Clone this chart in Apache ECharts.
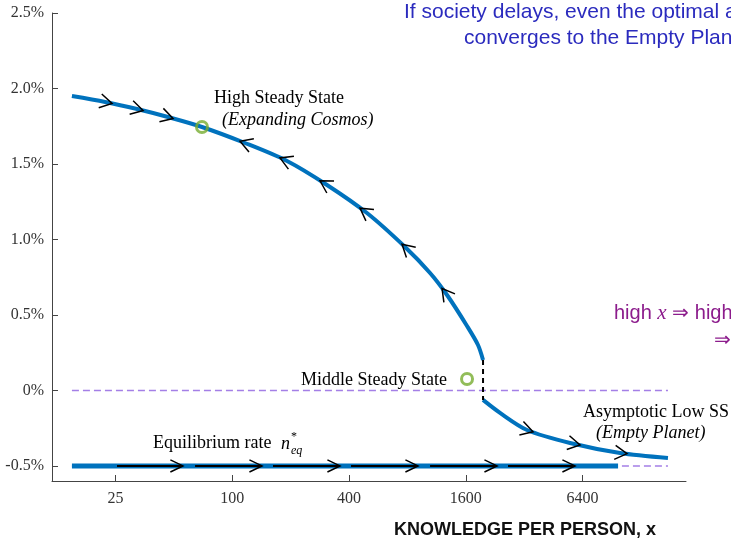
<!DOCTYPE html>
<html><head><meta charset="utf-8">
<script src="https://cdn.jsdelivr.net/npm/echarts@6/dist/echarts.min.js"></script>
<style>html,body{margin:0;padding:0;background:#fff}#c{width:731px;height:539px}</style>
</head><body><div id="c"></div>
<script>
// ---- data (knowledge per person K, growth rate n in %) ----
const xTicks = [25, 100, 400, 1600, 6400];
const yTicks = [-0.5, 0, 0.5, 1.0, 1.5, 2.0, 2.5];
const yTickLabels = ['-0.5%', '0%', '0.5%', '1.0%', '1.5%', '2.0%', '2.5%'];
const xRangeK = [11.76, 21865];
const yRange = [-0.6, 2.5];
const upperK = [14.9, 22.1, 32.3, 46.6, 69.8, 116.3, 191.6, 308, 495, 778, 1047, 1281, 1624, 1850, 1964];
const upperN = [1.950, 1.911, 1.864, 1.811, 1.745, 1.639, 1.520, 1.361, 1.175, 0.950, 0.778, 0.632, 0.427, 0.301, 0.202];
const lowerK = [1964, 2403, 3311, 5517, 9990, 17650];
const lowerN = [-0.063, -0.149, -0.262, -0.348, -0.414, -0.447];
const eqK = [14.9, 9760];
const eqN = -0.5;
const refLineK = [14.9, 17650];
const steadyK = [69.8, 1624];
const steadyN = [1.745, 0.076];
const jumpK = 1964;
const jumpN = [0.202, -0.063];
const upperArrowK = [24.0, 34.7, 49.5, 109.7, 176.3, 283.5, 455.8, 750.6, 1207];
const upperArrowDir = [1, 1, 1, -1, -1, -1, -1, -1, -1];
const lowerArrowK = [3555, 6212, 10850];
const lowerArrowDir = [1, 1, 1];
const eqArrowStartK = [25.45, 64.3, 162.2, 409.6, 1047, 2642];
const eqArrowEndK = [55.7, 142.4, 359.5, 907.7, 2320, 5855];

// ---- helpers ----
const L = k => Math.log(k / 25) / Math.log(4);
const BLUE = '#0072BD', GREEN = '#77AC30', PURPLE = '#A47FE6';
const SERIF = '"Liberation Serif","Times New Roman",serif';
const SANS = '"Liberation Sans",Arial,Helvetica,sans-serif';
const branches = [[upperK, upperN], [lowerK, lowerN]];

function chevron(tip, d, len, ang) {
  const bx = -d[0], by = -d[1];
  const c = Math.cos(ang), s = Math.sin(ang);
  const p1 = [tip[0] + len * (bx * c - by * s), tip[1] + len * (bx * s + by * c)];
  const p2 = [tip[0] + len * (bx * c + by * s), tip[1] + len * (-bx * s + by * c)];
  return { type: 'polyline', shape: { points: [p1, tip, p2] }, style: { stroke: '#000', lineWidth: 1.5, fill: null } };
}

const curveArrowData = upperArrowK.map((k, i) => [L(k), upperArrowDir[i], 0])
  .concat(lowerArrowK.map((k, i) => [L(k), lowerArrowDir[i], 1]));
const eqArrowData = eqArrowStartK.map((k, i) => [L(k), L(eqArrowEndK[i]), eqN]);

const chart = echarts.init(document.getElementById('c'), null, { renderer: 'canvas' });
const textEl = (x, y, text, font, fill, extra) => Object.assign({
  type: 'text', x: x, y: y,
  style: Object.assign({ text: text, font: font, fill: fill, textAlign: 'left', textVerticalAlign: 'middle', align: 'left', verticalAlign: 'middle' }, extra || {})
});

chart.setOption({
  animation: false,
  backgroundColor: '#fff',
  grid: { left: 52, right: 45, top: 13, bottom: 58 },
  xAxis: {
    type: 'value', min: L(xRangeK[0]), max: L(xRangeK[1]),
    axisLine: { show: true, onZero: false, lineStyle: { color: '#444', width: 1 } },
    axisTick: { show: true, inside: true, length: 6, lineStyle: { color: '#444' }, customValues: xTicks.map(L) },
    axisLabel: { customValues: xTicks.map(L), formatter: v => String(Math.round(25 * Math.pow(4, v))), fontFamily: SERIF, fontSize: 16, color: '#333', margin: 10 },
    splitLine: { show: false }
  },
  yAxis: {
    type: 'value', min: yRange[0], max: yRange[1],
    axisLine: { show: true, onZero: false, lineStyle: { color: '#444', width: 1 } },
    axisTick: { show: true, inside: true, length: 6, lineStyle: { color: '#444' }, customValues: yTicks },
    axisLabel: { customValues: yTicks, formatter: v => yTickLabels[yTicks.findIndex(t => Math.abs(t - v) < 1e-6)], fontFamily: SERIF, fontSize: 16, color: '#333', margin: 8 },
    splitLine: { show: false }
  },
  series: [
    { type: 'line', data: refLineK.map(k => [L(k), 0]), symbol: 'none', lineStyle: { color: PURPLE, width: 1.5, type: [7, 4] }, z: 1 },
    { type: 'line', data: refLineK.map(k => [L(k), eqN]), symbol: 'none', lineStyle: { color: PURPLE, width: 1.5, type: [7, 4] }, z: 1 },
    { type: 'line', data: eqK.map(k => [L(k), eqN]), symbol: 'none', lineStyle: { color: BLUE, width: 5 }, z: 2 },
    { type: 'line', data: upperK.map((k, i) => [L(k), upperN[i]]), symbol: 'none', smooth: 0.3, lineStyle: { color: BLUE, width: 4 }, z: 2 },
    { type: 'line', data: lowerK.map((k, i) => [L(k), lowerN[i]]), symbol: 'none', smooth: 0.3, lineStyle: { color: BLUE, width: 4 }, z: 2 },
    { type: 'line', data: jumpN.map(n => [L(jumpK), n]), symbol: 'none', lineStyle: { color: '#000', width: 2, type: [5, 4] }, z: 3 },
    {
      type: 'custom', z: 4, data: curveArrowData, clip: false,
      renderItem: function (params, api) {
        const u = api.value(0), dir = api.value(1), br = api.value(2);
        const b = branches[br];
        const pts = b[0].map((k, i) => api.coord([L(k), b[1][i]]));
        const px = api.coord([u, 0])[0];
        let i = 0;
        while (i < pts.length - 2 && pts[i + 1][0] < px) i++;
        const a = pts[i], c = pts[i + 1];
        const t = (px - a[0]) / (c[0] - a[0]);
        const tip = [px, a[1] + t * (c[1] - a[1])];
        let dx = c[0] - a[0], dy = c[1] - a[1];
        const len = Math.hypot(dx, dy);
        dx = dx / len * dir; dy = dy / len * dir;
        return chevron(tip, [dx, dy], 14, Math.PI / 6);
      }
    },
    {
      type: 'custom', z: 4, data: eqArrowData, clip: false,
      renderItem: function (params, api) {
        const s = api.coord([api.value(0), api.value(2)]);
        const e = api.coord([api.value(1), api.value(2)]);
        return {
          type: 'group', children: [
            { type: 'line', shape: { x1: s[0], y1: s[1], x2: e[0], y2: e[1] }, style: { stroke: '#000', lineWidth: 2 } },
            chevron(e, [1, 0], 14, Math.PI / 7)
          ]
        };
      }
    },
    {
      type: 'scatter', z: 5, data: steadyK.map((k, i) => [L(k), steadyN[i]]), symbol: 'circle', symbolSize: 11,
      itemStyle: { color: 'rgba(0,0,0,0)', borderColor: GREEN, borderWidth: 3 }
    }
  ],
  graphic: [
    textEl(404, 12, 'If society delays, even the optimal allocation', '21px ' + SANS, '#2B2BBE'),
    textEl(464, 38, 'converges to the Empty Planet', '21px ' + SANS, '#2B2BBE'),
    {
      type: 'text', x: 614, y: 313,
      style: {
        text: '{a|high }{b|x}{a| ⇒ higher n}', fill: '#8C1C8C', textVerticalAlign: 'middle', verticalAlign: 'middle',
        rich: { a: { font: '20px ' + SANS, fill: '#8C1C8C' }, b: { font: 'italic 21px ' + SERIF, fill: '#8C1C8C' } }
      }
    },
    textEl(714, 340, '⇒ growth', '20px ' + SANS, '#8C1C8C'),
    textEl(214, 98, 'High Steady State', '18px ' + SERIF, '#000'),
    textEl(222, 120, '(Expanding Cosmos)', 'italic 18px ' + SERIF, '#000'),
    textEl(301, 380, 'Middle Steady State', '18px ' + SERIF, '#000'),
    textEl(583, 412, 'Asymptotic Low SS', '18px ' + SERIF, '#000'),
    textEl(596, 433, '(Empty Planet)', 'italic 18px ' + SERIF, '#000'),
    textEl(153, 443, 'Equilibrium rate', '18px ' + SERIF, '#000'),
    textEl(281, 444, 'n', 'italic 18px ' + SERIF, '#000'),
    textEl(291, 437, '*', '12px ' + SERIF, '#000'),
    textEl(291, 451, 'eq', 'italic 12px ' + SERIF, '#000'),
    textEl(394, 530, 'KNOWLEDGE PER PERSON, x', 'bold 18px ' + SANS, '#111')
  ]
});
</script>
</body></html>
